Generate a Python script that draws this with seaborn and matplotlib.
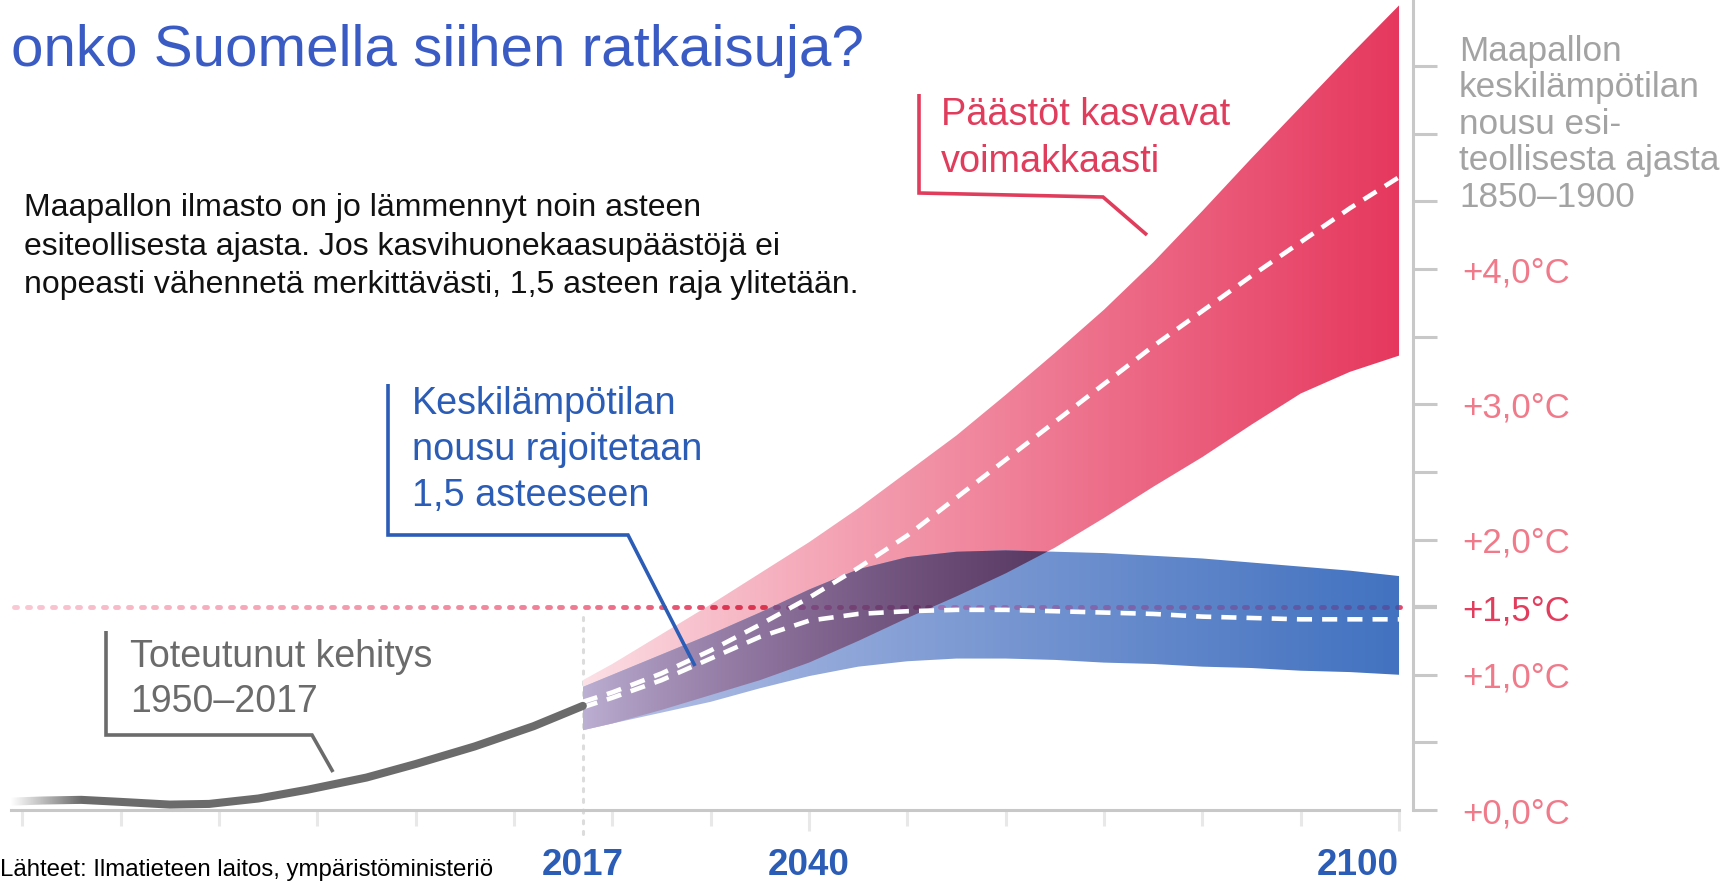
import numpy as np
import seaborn as sns
import matplotlib.pyplot as plt
from matplotlib.lines import Line2D
from matplotlib.collections import LineCollection
from matplotlib.path import Path

# toteutunut kehitys 1950-2017 (°C esiteollisesta)
hist_years = [1950, 1958, 1962, 1966, 1970, 1975, 1979, 1984, 1989, 1995, 2000, 2006, 2012, 2017]
hist_temp = [0.06, 0.06, 0.07, 0.075, 0.06, 0.04, 0.045, 0.085, 0.15, 0.24, 0.34, 0.47, 0.62, 0.77]

# skenaariot 2017-2100
years = [2017, 2020, 2025, 2030, 2035, 2040, 2045, 2050, 2055, 2060,
         2065, 2070, 2075, 2080, 2085, 2090, 2095, 2100]
high_up = [0.96, 1.08, 1.30, 1.52, 1.75, 1.98, 2.23, 2.50, 2.77, 3.07,
           3.38, 3.70, 4.05, 4.43, 4.82, 5.20, 5.58, 5.95]
high_mid = [0.80, 0.87, 1.01, 1.18, 1.37, 1.57, 1.79, 2.03, 2.31, 2.59,
            2.87, 3.15, 3.43, 3.69, 3.95, 4.20, 4.45, 4.68]
high_low = [0.59, 0.64, 0.74, 0.85, 0.96, 1.09, 1.25, 1.42, 1.58, 1.75,
            1.94, 2.16, 2.39, 2.61, 2.85, 3.08, 3.24, 3.36]
low_up = [0.91, 1.00, 1.15, 1.30, 1.46, 1.63, 1.78, 1.87, 1.91, 1.92,
          1.91, 1.90, 1.88, 1.86, 1.83, 1.80, 1.77, 1.73]
low_mid = [0.76, 0.83, 0.96, 1.12, 1.28, 1.40, 1.45, 1.47, 1.48, 1.48,
           1.47, 1.46, 1.45, 1.43, 1.42, 1.41, 1.41, 1.41]
low_low = [0.59, 0.64, 0.72, 0.80, 0.90, 0.99, 1.06, 1.10, 1.12, 1.12,
           1.11, 1.09, 1.08, 1.06, 1.05, 1.03, 1.02, 1.00]

limit = 1.5
decades = list(range(1960, 2101, 10))
tick_vals = [0, 0.5, 1, 1.5, 2, 2.5, 3, 3.5, 4, 4.5, 5, 5.5]
tick_labels = ['+0,0°C', '', '+1,0°C', '+1,5°C', '+2,0°C', '', '+3,0°C', '', '+4,0°C', '', '', '']
year_labels = [2017, 2040, 2100]

X0, X1 = 1958.85, 2101.42
YTOP = 5.99

sns.set_style("white")
plt.rcParams['font.family'] = ['Liberation Sans', 'DejaVu Sans']

W, H = 1730, 882
fig = plt.figure(figsize=(W / 100, H / 100), dpi=100)
ax = fig.add_axes([11 / W, 72 / H, 1402 / W, 810 / H])


def fp(x, y):
    return x / W, 1 - y / H


# liukuvärit
red0, red1 = np.array([252, 226, 231]) / 255, np.array([230, 56, 94]) / 255
blue0, blue1 = np.array([190, 198, 232]) / 255, np.array([66, 114, 192]) / 255


def grads(x):
    t = np.clip((np.asarray(x) - years[0]) / (years[-1] - years[0]), 0, 1)[:, None]
    tp = t ** 0.85
    r = red0 * (1 - tp) + red1 * tp
    b = blue0 * (1 - tp) + blue1 * tp
    return r, b, r * b * (1 - 0.3 * t)


gx = np.linspace(years[0], years[-1], 300)
red_grad, blue_grad, mix_grad = grads(gx)


def band(lo, hi, grad, z, where=None):
    poly = ax.fill_between(years, lo, hi, where=where, interpolate=True,
                           facecolor='none', edgecolor='none', lw=0)
    path = Path.make_compound_path(*poly.get_paths())
    im = ax.imshow(grad[None, :, :], extent=(years[0], years[-1], 0, 6.2),
                   aspect='auto', origin='lower', interpolation='bilinear', zorder=z)
    im.set_clip_path(path, ax.transData)
    return path


red_path = band(high_low, high_up, red_grad, 3)
blue_path = band(low_low, low_up, blue_grad, 4)
ov_lo = np.maximum(high_low, low_low)
ov_hi = np.minimum(high_up, low_up)
mix_path = band(ov_lo, ov_hi, mix_grad, 5, where=ov_hi > ov_lo)

# 1,5 asteen pisteviiva
dot_x = np.arange(X0 + 0.3, years[-1], 1.29)
segs = [[(x, limit), (x + 0.3, limit)] for x in dot_x]
t1 = np.clip((dot_x - X0) / (years[0] - X0), 0, 1)[:, None]
t2 = np.clip((dot_x - years[0]) / 13, 0, 1)[:, None]
c_left, c_mid, c_right = (np.array([250, 200, 212]) / 255, np.array([239, 122, 146]) / 255,
                          np.array([228, 72, 104]) / 255)
base = np.where(dot_x[:, None] < years[0], c_left * (1 - t1) + c_mid * t1,
                c_mid * (1 - t2) + c_right * t2)
on_red, on_blue, on_mix = grads(dot_x)
for cols, z, clip in [(base, 2, None), (on_red * base, 3.5, red_path),
                      (on_blue * np.array([1.2, 0.72, 0.84]), 4.5, blue_path),
                      (on_mix * np.array([0.95, 0.7, 0.86]), 5.5, mix_path)]:
    lc = LineCollection(segs, colors=np.clip(cols, 0, 1), linewidths=3.5,
                        capstyle='round', zorder=z)
    ax.add_collection(lc)
    if clip is not None:
        lc.set_clip_path(clip, ax.transData)

# 2017 pystyviiva
ax.plot([years[0], years[0]], [-0.18, 1.46], color='#dcdcdc', lw=2.2,
        linestyle=(0, (1, 2.5)), dash_capstyle='round', clip_on=False, zorder=1)

# mediaanit
for mid in (high_mid, low_mid):
    sns.lineplot(x=years, y=mid, ax=ax, color='white', lw=3.3,
                 linestyle=(0, (3.3, 2.2)), errorbar=None, zorder=6)

# toteutunut
sns.lineplot(x=hist_years, y=hist_temp, ax=ax, color='#6b6b6b', lw=5.8,
             solid_capstyle='round', solid_joinstyle='round', errorbar=None, zorder=6)
fade = np.ones((1, 100, 4))
fade[..., 3] = np.linspace(1, 0, 100)
ax.imshow(fade, extent=(X0, 1966, 0.015, 0.25), aspect='auto', zorder=7)

ax.set_xlim(X0, X1)
ax.set_ylim(0, YTOP)

# akselit
sns.despine(ax=ax, left=True, top=True, right=False, bottom=False)
for s in ['right', 'bottom']:
    ax.spines[s].set_color('#c8c8c8')
    ax.spines[s].set_linewidth(2.2)
ax.spines['bottom'].set_bounds(X0, years[-1])
ax.spines['right'].set_bounds(0, YTOP)

ax.set_xticks(decades)
ax.set_xticklabels([])
ax.tick_params(axis='x', bottom=True, direction='out', length=11.5, width=2.2, color='#e8e8e8')
for tk, yr in zip(ax.xaxis.get_major_ticks(), decades):
    if yr in (2040, 2100):
        tk.tick1line.set_color('#c4c4c4')
        tk.tick1line.set_markersize(15)

ax.yaxis.tick_right()
ax.set_yticks(tick_vals)
ax.set_yticklabels(tick_labels)
ax.tick_params(axis='y', right=True, left=False, direction='out', length=17, width=2.2,
               color='#c8c8c8', pad=18.7, labelsize=25, labelcolor='#f07a8a')
for tk, v in zip(ax.yaxis.get_major_ticks(), tick_vals):
    if v == limit:
        tk.tick2line.set_color('#e33d5e')
        tk.tick2line.set_markeredgewidth(3)
        tk.label2.set_color('#e33d5e')
    elif v % 1:
        tk.tick2line.set_color('#ececec')

# vuosiluvut
for yr in year_labels:
    ha = 'right' if yr == year_labels[-1] else 'center'
    ax.text(yr, -0.0802, str(yr), transform=ax.get_xaxis_transform(),
            ha=ha, va='baseline', fontsize=26.5, fontweight='bold', color='#2b5cb6')

# tekstit
fig.text(*fp(11, 66), 'onko Suomella siihen ratkaisuja?', fontsize=42, color='#3a5bc4', va='baseline')
body = ['Maapallon ilmasto on jo lämmennyt noin asteen',
        'esiteollisesta ajasta. Jos kasvihuonekaasupäästöjä ei',
        'nopeasti vähennetä merkittävästi, 1,5 asteen raja ylitetään.']
for i, s in enumerate(body):
    fig.text(*fp(24, 216 + 38.6 * i), s, fontsize=23, color='#111111', va='baseline')

for i, s in enumerate(['Päästöt kasvavat', 'voimakkaasti']):
    fig.text(*fp(941, 125 + 47 * i), s, fontsize=27.3, color='#e03c5c', va='baseline')
for i, s in enumerate(['Keskilämpötilan', 'nousu rajoitetaan', '1,5 asteeseen']):
    fig.text(*fp(412, 414 + 46 * i), s, fontsize=27.2, color='#2b5cb6', va='baseline')
for i, s in enumerate(['Toteutunut kehitys', '1950–2017']):
    fig.text(*fp(130, 667 + 45 * i), s, fontsize=27, color='#6b6b6b', va='baseline')
for i, s in enumerate(['Maapallon', 'keskilämpötilan', 'nousu esi-', 'teollisesta ajasta', '1850–1900']):
    fig.text(*fp(1459, 61 + 36.4 * i), s, fontsize=25.3, color='#a3a3a3', va='baseline')
fig.text(*fp(0, 876), 'Lähteet: Ilmatieteen laitos, ympäristöministeriö', fontsize=17.3,
         color='black', va='baseline')

# viittausviivat
leaders = [([919, 919, 1103, 1147], [94, 193, 197, 235], '#e03c5c'),
           ([388, 388, 628, 695], [384, 535, 535, 666], '#2b5cb6'),
           ([106, 106, 312, 333], [631, 735, 735, 772], '#6b6b6b')]
for xs, ys, c in leaders:
    fig.add_artist(Line2D([x / W for x in xs], [1 - y / H for y in ys], color=c, lw=2.6,
                          solid_capstyle='butt', solid_joinstyle='miter'))

fig.savefig('out.png', dpi=100)
